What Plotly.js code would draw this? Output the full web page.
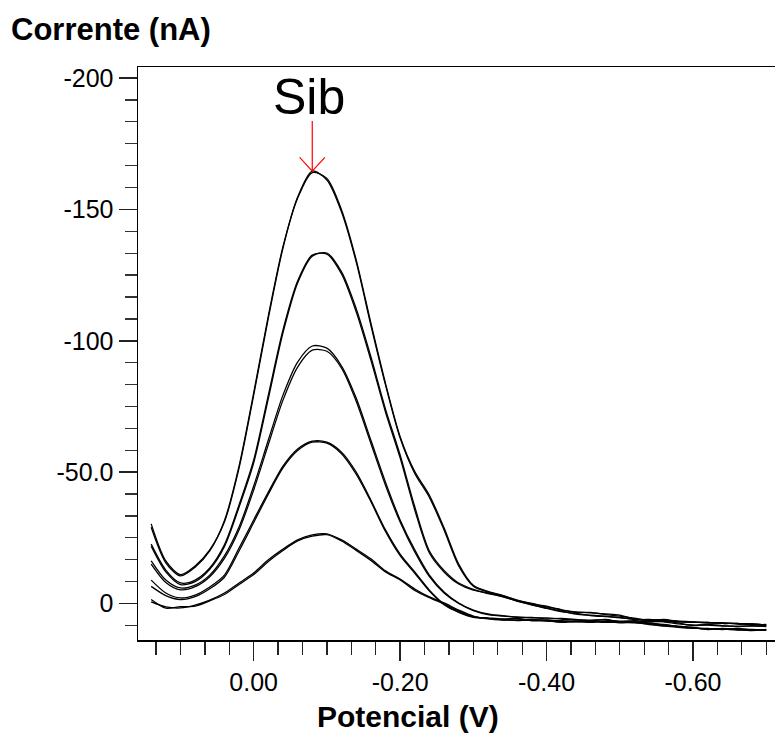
<!DOCTYPE html>
<html>
<head>
<meta charset="utf-8">
<script src="https://cdn.plot.ly/plotly-3.0.1.min.js"></script>
<style>html,body{margin:0;padding:0;background:#fff;}#chart{width:775px;height:737px;}</style>
</head>
<body>
<div id="chart"></div>
<script>
// Potential (V)
const potential = [0.14, 0.12, 0.10, 0.08, 0.06, 0.04, 0.02, 0.00, -0.02, -0.04, -0.06, -0.08, -0.10, -0.12, -0.14, -0.16, -0.18, -0.20, -0.22, -0.24, -0.26, -0.28, -0.30, -0.32, -0.34, -0.36, -0.38, -0.40, -0.42, -0.44, -0.46, -0.48, -0.50, -0.52, -0.54, -0.56, -0.58, -0.60, -0.62, -0.64, -0.66, -0.68, -0.70];

// Current (nA), replicate scans for five concentration levels
const level5a = [-30.3, -16.2, -11.0, -14.3, -20.4, -31.0, -51.5, -79.3, -108.6, -135.3, -154.7, -164.6, -161.2, -149.0, -130.0, -106.0, -83.2, -63.0, -49.5, -40.4, -28.0, -14.3, -6.6, -4.4, -2.9, -1.3, 0.2, 1.0, 2.5, 3.2, 3.6, 4.0, 4.4, 5.9, 6.3, 6.3, 7.0, 7.0, 7.4, 7.4, 7.8, 7.8, 8.2];
const level5b = [-29.0, -15.5, -10.5, -13.8, -20.0, -31.5, -52.3, -80.2, -109.5, -135.8, -154.2, -164.0, -161.8, -149.8, -130.8, -106.8, -83.8, -63.5, -50.2, -41.2, -28.8, -15.0, -6.9, -4.6, -3.1, -1.1, 0.0, 1.3, 2.3, 3.4, 3.4, 4.2, 4.8, 5.6, 6.5, 6.1, 6.8, 7.2, 7.2, 7.6, 7.6, 8.0, 8.3];
const level4a = [-22.6, -12.7, -7.8, -8.9, -13.5, -22.3, -37.5, -54.6, -79.3, -104.1, -122.7, -132.6, -133.0, -125.4, -111.0, -92.7, -72.9, -55.4, -35.6, -19.2, -12.0, -7.4, -5.1, -4.0, -2.5, -1.0, 0.6, 1.7, 2.9, 4.0, 4.4, 4.8, 5.5, 5.9, 6.3, 6.3, 6.7, 7.0, 7.4, 7.4, 7.8, 7.8, 8.2];
const level4b = [-21.8, -12.0, -7.2, -8.3, -13.0, -21.6, -36.6, -53.5, -78.0, -103.0, -122.0, -132.2, -133.4, -126.2, -112.2, -94.0, -74.0, -56.5, -36.8, -20.0, -12.6, -7.8, -5.4, -3.8, -2.7, -0.8, 0.4, 1.9, 3.1, 3.8, 4.6, 5.0, 5.3, 6.1, 6.1, 6.6, 6.9, 7.2, 7.2, 7.6, 7.6, 8.0, 8.0];
const level3a = [-16.2, -8.9, -5.9, -7.0, -10.8, -18.1, -29.1, -44.7, -62.2, -79.3, -91.9, -98.0, -97.2, -90.4, -78.2, -62.2, -46.2, -31.8, -20.4, -10.8, -4.4, -0.2, 2.5, 4.0, 4.8, 5.1, 5.5, 5.5, 5.9, 6.3, 6.3, 6.3, 6.7, 6.7, 6.7, 7.0, 7.8, 8.2, 8.2, 8.6, 8.6, 8.6, 8.6];
const level3b = [-15.0, -8.0, -5.2, -6.4, -10.2, -17.2, -28.0, -43.2, -60.5, -77.4, -90.0, -96.4, -96.0, -89.6, -77.0, -61.0, -45.0, -31.0, -19.6, -10.2, -4.0, 0.0, 2.7, 4.2, 4.6, 5.3, 5.3, 5.9, 5.7, 6.1, 6.6, 6.1, 6.9, 6.5, 7.0, 6.8, 7.4, 8.4, 8.0, 8.4, 8.8, 8.4, 8.8];
const level2a = [-8.9, -4.0, -2.1, -3.2, -6.3, -10.8, -21.1, -31.8, -42.4, -52.3, -58.8, -61.8, -61.4, -57.6, -50.0, -39.4, -28.0, -18.8, -12.0, -5.1, 0.2, 3.2, 5.1, 5.5, 5.9, 5.9, 6.3, 6.7, 7.0, 7.0, 7.0, 7.0, 7.0, 7.4, 7.8, 8.6, 8.9, 9.3, 9.7, 9.7, 9.7, 10.1, 10.1];
const level2b = [-6.5, -3.0, -1.5, -2.6, -5.6, -10.0, -20.0, -30.8, -41.6, -51.6, -58.2, -61.4, -61.0, -57.0, -49.2, -38.8, -27.4, -18.2, -11.5, -4.7, 0.5, 3.4, 5.3, 5.7, 6.1, 5.7, 6.6, 6.5, 7.2, 6.8, 7.2, 6.8, 7.4, 7.2, 8.0, 8.4, 9.1, 9.5, 9.5, 9.9, 9.5, 9.9, 10.1];
const level1a = [-0.6, 1.3, 1.7, 0.6, -1.3, -4.0, -7.8, -11.6, -16.6, -20.7, -24.2, -26.1, -26.5, -24.2, -20.7, -17.0, -12.4, -9.3, -5.5, -2.5, -0.2, 2.5, 4.8, 5.9, 6.3, 6.3, 6.3, 6.3, 6.7, 6.7, 6.7, 7.0, 7.0, 7.0, 7.4, 8.2, 8.6, 9.3, 9.7, 9.7, 10.1, 10.1, 10.1];
const level1b = [-1.5, 1.8, 1.2, 1.0, -1.0, -3.4, -7.2, -11.0, -16.0, -20.2, -23.8, -25.6, -26.2, -23.8, -20.2, -16.4, -12.0, -9.0, -5.0, -2.2, 0.2, 2.8, 5.0, 5.7, 6.1, 6.5, 6.1, 6.5, 6.5, 6.9, 6.5, 7.2, 6.9, 7.2, 7.6, 8.0, 8.8, 9.1, 9.9, 9.5, 9.9, 10.3, 9.9];

// Tick labels
const yTickVals = [-200, -150, -100, -50, 0];
const yTickText = ['-200', '-150', '-100', '-50.0', '0'];
const xTickVals = [0, -0.2, -0.4, -0.6];
const xTickText = ['0.00', '-0.20', '-0.40', '-0.60'];

const peakLabel = 'Sib';
const yTitle = 'Corrente (nA)';
const xTitle = 'Potencial (V)';

const series = [level5a, level5b, level4a, level4b, level3a, level3b, level2a, level2b, level1a, level1b];
const traces = series.map(function (s) {
  return {
    x: potential, y: s, type: 'scatter', mode: 'lines',
    line: {color: '#000000', width: 1.3, shape: 'spline', smoothing: 0.8},
    hoverinfo: 'skip', showlegend: false
  };
});

// peak of the highest curve (arrow anchor)
let pk = 0;
for (let i = 1; i < level5a.length; i++) if (level5a[i] < level5a[pk]) pk = i;
const peakX = potential[pk], peakY = level5a[pk];

const font = 'Liberation Sans, Arial, Helvetica, sans-serif';
const layout = {
  width: 775, height: 737,
  margin: {l: 138, r: 0, t: 67, b: 97, pad: 0},
  paper_bgcolor: '#ffffff', plot_bgcolor: '#ffffff',
  showlegend: false,
  font: {family: font, color: '#000'},
  xaxis: {
    range: [0.158, -0.712],
    showgrid: false, zeroline: false,
    showline: true, linecolor: '#000', linewidth: 1.5, mirror: true,
    tickmode: 'array', tickvals: xTickVals, ticktext: xTickText,
    ticks: 'outside', ticklen: 19, tickwidth: 1.5, tickcolor: '#222',
    tickfont: {family: font, size: 25, color: '#000'},
    minor: {tickmode: 'linear', tick0: 0, dtick: 0.2 / 6, ticks: 'outside', ticklen: 13, tickwidth: 1.3, tickcolor: '#222', showgrid: false}
  },
  yaxis: {
    range: [13.9, -204.2],
    showgrid: false, zeroline: false,
    showline: true, linecolor: '#000', linewidth: 1.5, mirror: false,
    tickmode: 'array', tickvals: yTickVals, ticktext: yTickText,
    ticks: 'outside', ticklen: 18, tickwidth: 1.5, tickcolor: '#222',
    tickfont: {family: font, size: 25, color: '#000'},
    minor: {tickmode: 'linear', tick0: 0, dtick: 50 / 6, ticks: 'outside', ticklen: 12, tickwidth: 1.3, tickcolor: '#333', showgrid: false}
  },
  annotations: [
    {text: yTitle, xref: 'paper', yref: 'paper', x: -0.2025, y: 1.0646, xanchor: 'left', yanchor: 'middle',
     showarrow: false, font: {family: font, size: 31, weight: 'bold', color: '#000'}},
    {text: xTitle, xref: 'paper', yref: 'paper', x: 0.4231, y: -0.1337, xanchor: 'center', yanchor: 'middle',
     showarrow: false, borderpad: 0, font: {family: font, size: 30, weight: 'bold', color: '#000'}},
    {text: peakLabel, xref: 'x', yref: 'paper', x: peakX, xshift: -3, y: 0.9476, xanchor: 'center', yanchor: 'middle',
     showarrow: false, font: {family: font, size: 50, color: '#000'}}
  ],
  shapes: [
    {type: 'path', xref: 'x', yref: 'y', xsizemode: 'pixel', ysizemode: 'pixel',
     xanchor: peakX, yanchor: peakY,
     path: 'M -12.6,13.6 L 0,0 L 12.6,13.6 M 0,0 L 0,50',
     line: {color: '#ff0000', width: 1.2}, layer: 'above'}
  ]
};

Plotly.newPlot('chart', traces, layout, {staticPlot: true, displayModeBar: false});
</script>
</body>
</html>
